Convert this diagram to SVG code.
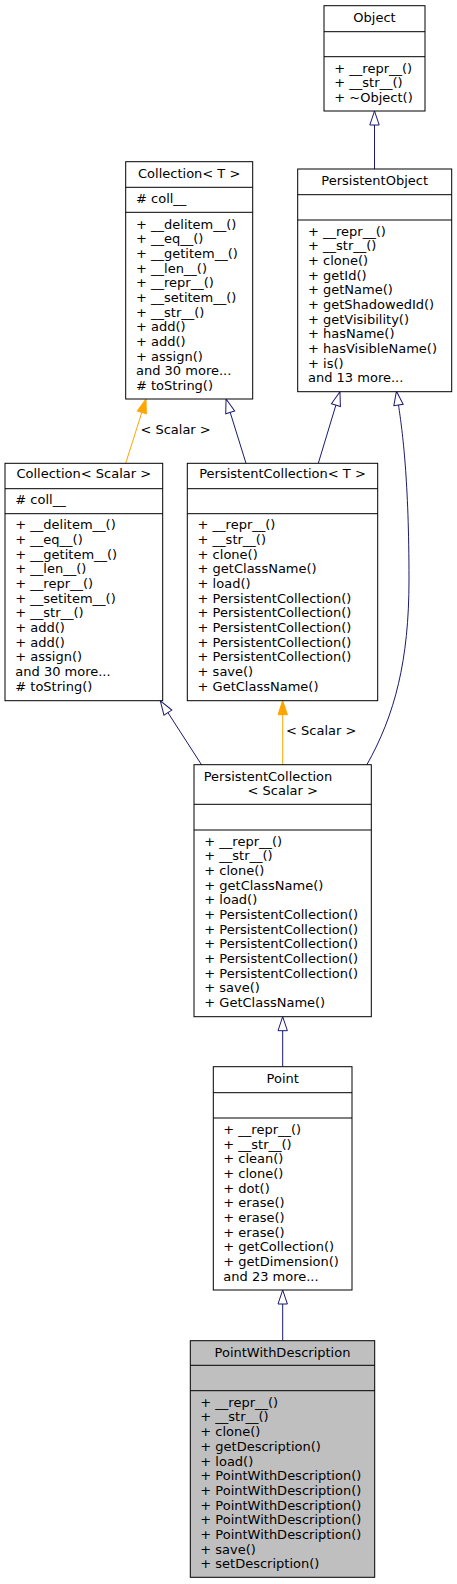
<svg xmlns="http://www.w3.org/2000/svg" width="457" height="1584" viewBox="0 0 457 1584">
<style>
text{font-family:"DejaVu Sans","Liberation Sans",sans-serif;font-size:13px;fill:#000}
.t{text-anchor:middle}
.box{fill:#fff;stroke:#000;stroke-width:1}
.hl{fill:#bfbfbf}
.div{stroke:#000;stroke-width:1}
.inh{fill:none;stroke:#191970;stroke-width:1}
.tpl{fill:none;stroke:#ffa500;stroke-width:1}
</style>
<defs>
<marker id="hollow" markerUnits="userSpaceOnUse" viewBox="-1 -6 16 12" refX="0" refY="0" markerWidth="16" markerHeight="12" orient="auto" overflow="visible">
<path d="M0,-4.7 L14,0 L0,4.7 Z" fill="#fff" stroke="#191970" stroke-width="1"/>
</marker>
<marker id="filled" markerUnits="userSpaceOnUse" viewBox="-1 -6 16 12" refX="0" refY="0" markerWidth="16" markerHeight="12" orient="auto" overflow="visible">
<path d="M0,-4.7 L14,0 L0,4.7 Z" fill="#ffa500" stroke="#ffa500" stroke-width="1"/>
</marker>
</defs>
<rect width="457" height="1584" fill="#fff"/>
<g id="connectors">
<path class="inh" d="M374.5,169 L374.5,125" marker-end="url(#hollow)"/>
<path class="tpl" d="M125.7,463.3 L141.8,412.4" marker-end="url(#filled)"/>
<text x="140.4" y="434">&lt; Scalar &gt;</text>
<path class="inh" d="M246,463.3 L230.2,412.4" marker-end="url(#hollow)"/>
<path class="inh" d="M318.3,463.3 L335.9,405.1" marker-end="url(#hollow)"/>
<path class="inh" d="M366.7,765 C395,715 409,660 409,580 C409,480 402.5,432 398.5,405" marker-end="url(#hollow)"/>
<path class="inh" d="M201.7,765 L167.9,712.6" marker-end="url(#hollow)"/>
<path class="tpl" d="M282.7,765 L282.7,714.7" marker-end="url(#filled)"/>
<text x="286" y="735">&lt; Scalar &gt;</text>
<path class="inh" d="M282.7,1066.7 L282.7,1030.7" marker-end="url(#hollow)"/>
<path class="inh" d="M282.7,1340.7 L282.7,1304" marker-end="url(#hollow)"/>
</g>
<g id="Object">
<rect class="box" x="324" y="5.7" width="101" height="105.3"/>
<line class="div" x1="324" y1="31.7" x2="425" y2="31.7"/>
<line class="div" x1="324" y1="56.7" x2="425" y2="56.7"/>
<text class="t" x="374.5" y="21.7">Object</text>
<text x="334.3" y="72.7">+ __repr__()</text>
<text x="334.3" y="87.4">+ __str__()</text>
<text x="334.3" y="102">+ ~Object()</text>
</g>
<g id="PersistentObject">
<rect class="box" x="297.7" y="169" width="154" height="222.7"/>
<line class="div" x1="297.7" y1="194.7" x2="451.7" y2="194.7"/>
<line class="div" x1="297.7" y1="220" x2="451.7" y2="220"/>
<text class="t" x="374.7" y="185">PersistentObject</text>
<text x="308" y="235.7">+ __repr__()</text>
<text x="308" y="250.4">+ __str__()</text>
<text x="308" y="265">+ clone()</text>
<text x="308" y="279.7">+ getId()</text>
<text x="308" y="294.3">+ getName()</text>
<text x="308" y="309">+ getShadowedId()</text>
<text x="308" y="323.7">+ getVisibility()</text>
<text x="308" y="338.3">+ hasName()</text>
<text x="308" y="353">+ hasVisibleName()</text>
<text x="308" y="367.6">+ is()</text>
<text x="308" y="382.3">and 13 more...</text>
</g>
<g id="CollectionT">
<rect class="box" x="125.7" y="161.7" width="127" height="237.3"/>
<line class="div" x1="125.7" y1="187.3" x2="252.7" y2="187.3"/>
<line class="div" x1="125.7" y1="212.3" x2="252.7" y2="212.3"/>
<text class="t" x="189.2" y="177.7">Collection&lt; T &gt;</text>
<text x="136" y="202.7"># coll__</text>
<text x="136" y="228.7">+ __delitem__()</text>
<text x="136" y="243.4">+ __eq__()</text>
<text x="136" y="258">+ __getitem__()</text>
<text x="136" y="272.7">+ __len__()</text>
<text x="136" y="287.4">+ __repr__()</text>
<text x="136" y="302">+ __setitem__()</text>
<text x="136" y="316.7">+ __str__()</text>
<text x="136" y="331.4">+ add()</text>
<text x="136" y="346">+ add()</text>
<text x="136" y="360.7">+ assign()</text>
<text x="136" y="375.4">and 30 more...</text>
<text x="136" y="390"># toString()</text>
</g>
<g id="CollectionScalar">
<rect class="box" x="5" y="463.3" width="157.7" height="237.4"/>
<line class="div" x1="5" y1="488.7" x2="162.7" y2="488.7"/>
<line class="div" x1="5" y1="513.7" x2="162.7" y2="513.7"/>
<text class="t" x="83.8" y="478.3">Collection&lt; Scalar &gt;</text>
<text x="15.3" y="504"># coll__</text>
<text x="15.3" y="529.3">+ __delitem__()</text>
<text x="15.3" y="544">+ __eq__()</text>
<text x="15.3" y="558.6">+ __getitem__()</text>
<text x="15.3" y="573.3">+ __len__()</text>
<text x="15.3" y="588">+ __repr__()</text>
<text x="15.3" y="602.6">+ __setitem__()</text>
<text x="15.3" y="617.3">+ __str__()</text>
<text x="15.3" y="632">+ add()</text>
<text x="15.3" y="646.7">+ add()</text>
<text x="15.3" y="661.3">+ assign()</text>
<text x="15.3" y="676">and 30 more...</text>
<text x="15.3" y="690.7"># toString()</text>
</g>
<g id="PersistentCollectionT">
<rect class="box" x="187.3" y="463.3" width="190.4" height="237.4"/>
<line class="div" x1="187.3" y1="488.7" x2="377.7" y2="488.7"/>
<line class="div" x1="187.3" y1="513.7" x2="377.7" y2="513.7"/>
<text class="t" x="282.5" y="478.3">PersistentCollection&lt; T &gt;</text>
<text x="197.6" y="529.3">+ __repr__()</text>
<text x="197.6" y="544">+ __str__()</text>
<text x="197.6" y="558.6">+ clone()</text>
<text x="197.6" y="573.3">+ getClassName()</text>
<text x="197.6" y="588">+ load()</text>
<text x="197.6" y="602.6">+ PersistentCollection()</text>
<text x="197.6" y="617.3">+ PersistentCollection()</text>
<text x="197.6" y="632">+ PersistentCollection()</text>
<text x="197.6" y="646.7">+ PersistentCollection()</text>
<text x="197.6" y="661.3">+ PersistentCollection()</text>
<text x="197.6" y="676">+ save()</text>
<text x="197.6" y="690.7">+ GetClassName()</text>
</g>
<g id="PersistentCollectionScalar">
<rect class="box" x="194" y="764.7" width="177.3" height="252"/>
<line class="div" x1="194" y1="804.3" x2="371.3" y2="804.3"/>
<line class="div" x1="194" y1="830" x2="371.3" y2="830"/>
<text x="203.7" y="780.7">PersistentCollection</text>
<text class="t" x="282.7" y="795">&lt; Scalar &gt;</text>
<text x="204.3" y="845.7">+ __repr__()</text>
<text x="204.3" y="860.3">+ __str__()</text>
<text x="204.3" y="875">+ clone()</text>
<text x="204.3" y="889.6">+ getClassName()</text>
<text x="204.3" y="904.3">+ load()</text>
<text x="204.3" y="918.9">+ PersistentCollection()</text>
<text x="204.3" y="933.5">+ PersistentCollection()</text>
<text x="204.3" y="948.2">+ PersistentCollection()</text>
<text x="204.3" y="962.8">+ PersistentCollection()</text>
<text x="204.3" y="977.5">+ PersistentCollection()</text>
<text x="204.3" y="992.1">+ save()</text>
<text x="204.3" y="1006.7">+ GetClassName()</text>
</g>
<g id="Point">
<rect class="box" x="213.3" y="1066.7" width="138.7" height="223.3"/>
<line class="div" x1="213.3" y1="1092.7" x2="352" y2="1092.7"/>
<line class="div" x1="213.3" y1="1118" x2="352" y2="1118"/>
<text class="t" x="282.7" y="1082.7">Point</text>
<text x="223.3" y="1134">+ __repr__()</text>
<text x="223.3" y="1148.7">+ __str__()</text>
<text x="223.3" y="1163.3">+ clean()</text>
<text x="223.3" y="1178">+ clone()</text>
<text x="223.3" y="1192.7">+ dot()</text>
<text x="223.3" y="1207.3">+ erase()</text>
<text x="223.3" y="1222">+ erase()</text>
<text x="223.3" y="1236.7">+ erase()</text>
<text x="223.3" y="1251.4">+ getCollection()</text>
<text x="223.3" y="1266">+ getDimension()</text>
<text x="223.3" y="1280.7">and 23 more...</text>
</g>
<g id="PointWithDescription">
<rect class="box hl" x="190.3" y="1340.7" width="184.4" height="236.6"/>
<line class="div" x1="190.3" y1="1365.3" x2="374.7" y2="1365.3"/>
<line class="div" x1="190.3" y1="1390.7" x2="374.7" y2="1390.7"/>
<text class="t" x="282.5" y="1356.7">PointWithDescription</text>
<text x="200.3" y="1406.7">+ __repr__()</text>
<text x="200.3" y="1421.4">+ __str__()</text>
<text x="200.3" y="1436.1">+ clone()</text>
<text x="200.3" y="1450.8">+ getDescription()</text>
<text x="200.3" y="1465.5">+ load()</text>
<text x="200.3" y="1480.2">+ PointWithDescription()</text>
<text x="200.3" y="1494.8">+ PointWithDescription()</text>
<text x="200.3" y="1509.5">+ PointWithDescription()</text>
<text x="200.3" y="1524.2">+ PointWithDescription()</text>
<text x="200.3" y="1538.9">+ PointWithDescription()</text>
<text x="200.3" y="1553.6">+ save()</text>
<text x="200.3" y="1568.3">+ setDescription()</text>
</g>
</svg>
